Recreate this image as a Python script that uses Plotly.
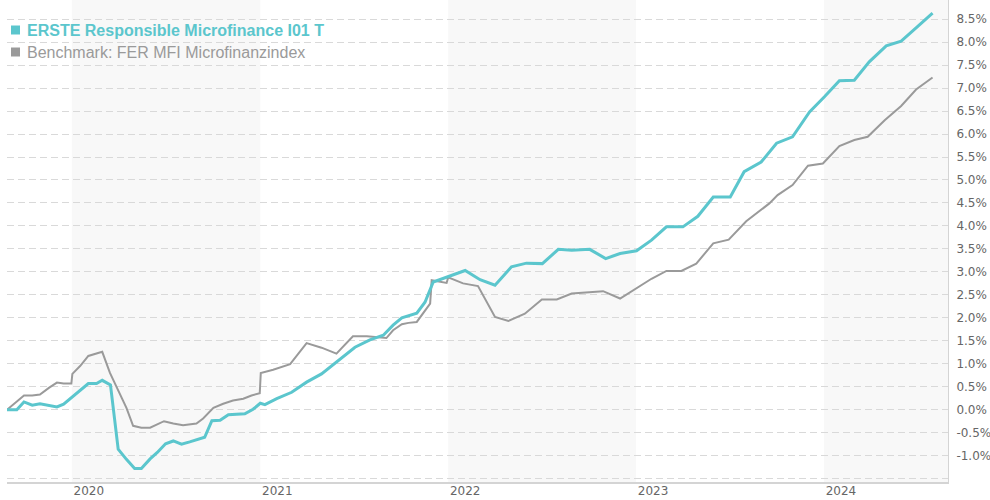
import plotly.graph_objects as go

# ---- data ----
fund_name = "ERSTE Responsible Microfinance I01 T"
bench_name = "Benchmark: FER MFI Microfinanzindex"

fund_dates = [
    "2019-08-28", "2019-09-16", "2019-09-30", "2019-10-16", "2019-10-31", "2019-11-18", "2019-12-03", "2019-12-16", "2019-12-31",
    "2020-01-17", "2020-02-02", "2020-02-18", "2020-02-29", "2020-03-16", "2020-03-31", "2020-04-16", "2020-05-02", "2020-05-15",
    "2020-06-01", "2020-06-15", "2020-07-01", "2020-07-16", "2020-08-01", "2020-08-17", "2020-09-04", "2020-09-15", "2020-09-29",
    "2020-10-15", "2020-10-31", "2020-12-02", "2020-12-18", "2021-01-01", "2021-01-10", "2021-02-02", "2021-03-03", "2021-04-01",
    "2021-04-30", "2021-05-29", "2021-07-04", "2021-08-02", "2021-08-28", "2021-09-16", "2021-10-03", "2021-11-01", "2021-11-17",
    "2021-12-03", "2022-01-01", "2022-02-03", "2022-03-04", "2022-04-02", "2022-05-04", "2022-06-02", "2022-07-03", "2022-08-03",
    "2022-08-29", "2022-10-03", "2022-11-03", "2022-12-01", "2023-01-02", "2023-01-31", "2023-03-01", "2023-04-02", "2023-05-01",
    "2023-05-31", "2023-07-03", "2023-07-30", "2023-09-01", "2023-10-01", "2023-11-01", "2023-12-04", "2024-01-02", "2024-01-31",
    "2024-02-29", "2024-03-29", "2024-05-01", "2024-05-30", "2024-06-28", "2024-07-30",
]
fund_pct = [
    0.00, 0.00, 0.17, 0.10, 0.13, 0.10, 0.06, 0.12, 0.26,
    0.41, 0.57, 0.57, 0.64, 0.54, -0.86, -1.08, -1.28, -1.28,
    -1.07, -0.93, -0.74, -0.68, -0.75, -0.70, -0.63, -0.60, -0.24,
    -0.23, -0.11, -0.09, 0.01, 0.14, 0.11, 0.24, 0.38, 0.60,
    0.78, 1.04, 1.36, 1.52, 1.62, 1.84, 2.00, 2.10, 2.34,
    2.78, 2.89, 3.03, 2.83, 2.71, 3.11, 3.19, 3.18, 3.49,
    3.47, 3.49, 3.29, 3.40, 3.46, 3.69, 3.98, 3.98, 4.21,
    4.63, 4.63, 5.18, 5.39, 5.80, 5.94, 6.48, 6.81, 7.16,
    7.17, 7.57, 7.92, 8.02, 8.31, 8.63,
]

bench_dates = [
    "2019-08-28", "2019-09-12", "2019-09-30", "2019-10-16", "2019-10-31", "2019-11-18", "2019-12-03", "2019-12-16", "2019-12-31",
    "2020-01-02", "2020-01-17", "2020-02-02", "2020-02-18", "2020-02-29", "2020-03-15", "2020-03-31", "2020-04-16", "2020-04-29",
    "2020-05-15", "2020-06-01", "2020-06-14", "2020-06-28", "2020-07-16", "2020-08-04", "2020-08-30", "2020-09-12", "2020-10-02",
    "2020-10-21", "2020-11-09", "2020-11-29", "2020-12-15", "2020-12-31", "2021-01-02", "2021-01-26", "2021-02-28", "2021-04-01",
    "2021-04-30", "2021-05-29", "2021-06-30", "2021-07-27", "2021-09-03", "2021-09-16", "2021-10-03", "2021-10-16", "2021-11-01",
    "2021-11-13", "2021-11-27", "2021-11-30", "2021-12-16", "2021-12-29", "2022-01-01", "2022-01-30", "2022-02-28", "2022-04-02",
    "2022-04-28", "2022-05-30", "2022-07-02", "2022-07-31", "2022-08-29", "2022-09-27", "2022-10-29", "2022-12-01", "2023-01-02",
    "2023-01-31", "2023-03-01", "2023-03-30", "2023-04-28", "2023-05-31", "2023-06-30", "2023-08-03", "2023-09-17", "2023-10-03",
    "2023-11-01", "2023-12-01", "2023-12-30", "2024-01-31", "2024-02-29", "2024-03-26", "2024-04-28", "2024-05-30", "2024-06-28",
    "2024-07-30",
]
bench_pct = [
    0.00, 0.15, 0.31, 0.31, 0.33, 0.48, 0.59, 0.57, 0.57,
    0.78, 0.95, 1.17, 1.22, 1.26, 0.80, 0.41, 0.04, -0.35,
    -0.39, -0.39, -0.32, -0.25, -0.30, -0.34, -0.30, -0.19, 0.04,
    0.13, 0.20, 0.24, 0.31, 0.36, 0.80, 0.87, 0.99, 1.45,
    1.35, 1.22, 1.60, 1.60, 1.56, 1.73, 1.86, 1.89, 1.91,
    2.10, 2.31, 2.82, 2.78, 2.76, 2.88, 2.75, 2.69, 2.02,
    1.93, 2.09, 2.40, 2.40, 2.53, 2.56, 2.58, 2.42, 2.64,
    2.85, 3.02, 3.02, 3.18, 3.62, 3.70, 4.10, 4.49, 4.67,
    4.89, 5.31, 5.36, 5.74, 5.87, 5.94, 6.30, 6.61, 6.97,
    7.23,
]

year_ticks = ["2020-01-01", "2021-01-01", "2022-01-01", "2023-01-01", "2024-01-01"]
year_labels = ["2020", "2021", "2022", "2023", "2024"]
shaded_years = [2020, 2022, 2024]
y_ticks = [-1.5, -1.0, -0.5, 0.0, 0.5, 1.0, 1.5, 2.0, 2.5, 3.0, 3.5, 4.0,
           4.5, 5.0, 5.5, 6.0, 6.5, 7.0, 7.5, 8.0, 8.5]
y_labels = ["" if v < -1.2 else f"{v:.1f}%" for v in y_ticks]

# ---- style ----
TEAL = "#5bc6cd"
GREY = "#9a9a9a"
W, H = 990, 500
ML, MR, MT, MB = 7, 42, 0, 18
X_RANGE = ["2019-08-28", "2024-08-29"]
Y_RANGE = [-1.573, 8.917]

fig = go.Figure()
fig.add_trace(go.Scatter(x=bench_dates, y=bench_pct, mode="lines", name=bench_name,
                         line=dict(color=GREY, width=2), hoverinfo="skip"))
fig.add_trace(go.Scatter(x=fund_dates, y=fund_pct, mode="lines", name=fund_name,
                         line=dict(color=TEAL, width=3), hoverinfo="skip"))

shapes = []
for yr in shaded_years:
    end = f"{yr + 1}-01-01"
    if end > X_RANGE[1]:
        end = X_RANGE[1]
    shapes.append(dict(type="rect", xref="x", yref="paper", x0=f"{yr}-01-01", x1=end,
                       y0=0, y1=1, fillcolor="#f8f8f8", line=dict(width=0), layer="below"))

pw = W - ML - MR
ph = H - MT - MB


def px_x(px):
    return (px - ML) / pw


def px_y(py):
    return 1 - (py - MT) / ph


# legend squares
for cy, col in [(30, TEAL), (52, GREY)]:
    shapes.append(dict(type="rect", xref="paper", yref="paper",
                       x0=px_x(11), x1=px_x(20), y0=px_y(cy + 4.5), y1=px_y(cy - 4.5),
                       fillcolor=col, line=dict(width=0)))

annotations = [
    dict(xref="paper", yref="paper", x=px_x(25), y=px_y(30), xanchor="left", yanchor="middle",
         text=f"<b>{fund_name}</b>", showarrow=False,
         font=dict(family="Liberation Sans, Arial, sans-serif", size=16, color=TEAL)),
    dict(xref="paper", yref="paper", x=px_x(25), y=px_y(52), xanchor="left", yanchor="middle",
         text=bench_name, showarrow=False,
         font=dict(family="Liberation Sans, Arial, sans-serif", size=16, color=GREY)),
]

fig.update_layout(
    width=W, height=H,
    margin=dict(l=ML, r=MR, t=MT, b=MB, pad=0),
    paper_bgcolor="white", plot_bgcolor="white",
    showlegend=False,
    shapes=shapes,
    annotations=annotations,
    font=dict(family="DejaVu Sans, Verdana, sans-serif", size=12, color="#666666"),
    xaxis=dict(
        type="date", range=X_RANGE,
        tickmode="array", tickvals=year_ticks, ticktext=year_labels,
        ticklabelshift=17, ticklabelstandoff=-3, ticks="", showgrid=False, zeroline=False,
        showline=True, linecolor="#d4d4d4", linewidth=2,
        tickfont=dict(family="DejaVu Sans, Verdana, sans-serif", size=12, color="#666666"),
    ),
    yaxis=dict(
        side="right", range=Y_RANGE,
        tickmode="array", tickvals=y_ticks, ticktext=y_labels,
        ticklabelstandoff=5,
        showgrid=True, gridcolor="#d9d9d9", gridwidth=1, griddash="7px,4px",
        zeroline=False, ticks="",
        showline=True, linecolor="#d4d4d4", linewidth=1,
        tickfont=dict(family="DejaVu Sans, Verdana, sans-serif", size=12, color="#666666"),
    ),
)

fig.write_html("out.html", config={"displayModeBar": False},
               post_script="document.body.style.margin='0';")
